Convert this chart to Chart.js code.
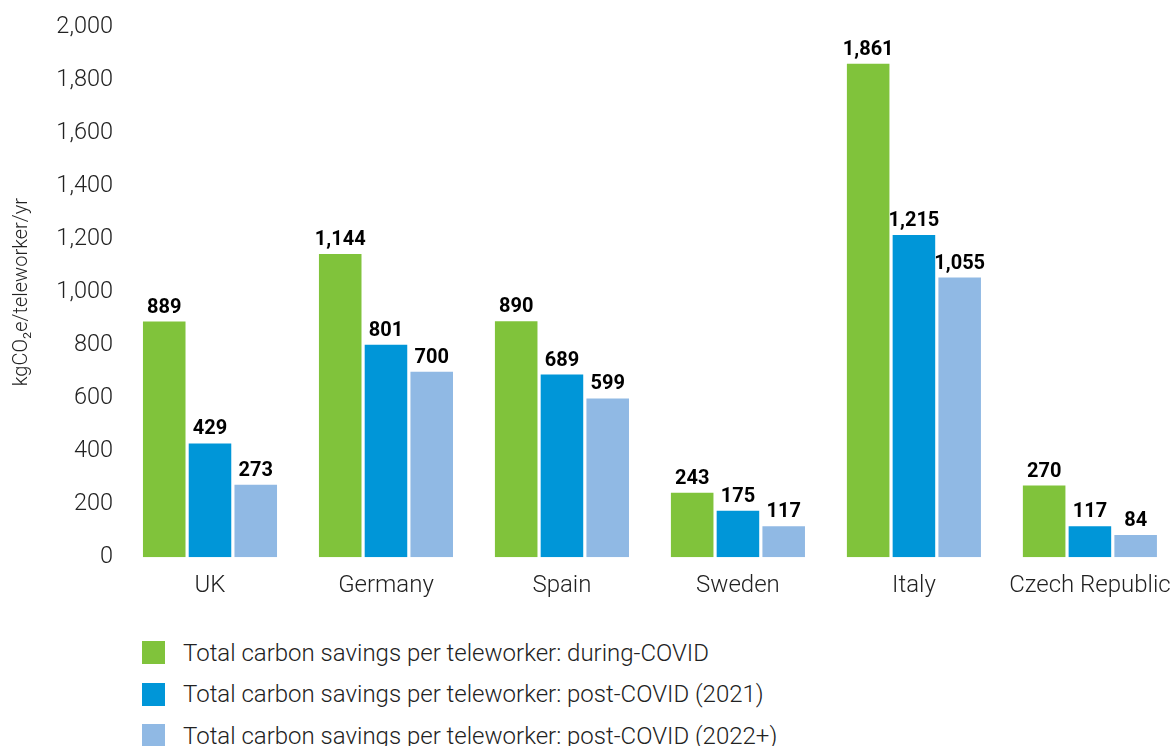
<!DOCTYPE html>
<html>
<head>
<meta charset="utf-8">
<script src="https://cdn.jsdelivr.net/npm/chart.js@4"></script>
<style>
  html, body { margin:0; padding:0; background:#fff; overflow:hidden; width:1174px; height:746px; }
  #wrap { position:absolute; left:0; top:0; width:1185px; height:618px; }
  .legend { position:absolute; left:142px; top:632px; font-family:Roboto, sans-serif; font-weight:300; font-size:24px; color:#222; }
  .legend .row { display:flex; align-items:center; height:41.5px; }
  .legend .box { width:23px; height:23px; margin-right:18px; }
</style>
</head>
<body>
<div id="wrap"><canvas id="chart"></canvas></div>
<div class="legend" id="legend"></div>
<script>
// Carbon savings per teleworker, by country

const countries = ['UK', 'Germany', 'Spain', 'Sweden', 'Italy', 'Czech Republic'];
const duringCovid = [889, 1144, 890, 243, 1861, 270];
const post2021 = [429, 801, 689, 175, 1215, 117];
const post2022 = [273, 700, 599, 117, 1055, 84];
const seriesNames = [
  'Total carbon savings per teleworker: during-COVID',
  'Total carbon savings per teleworker: post-COVID (2021)',
  'Total carbon savings per teleworker: post-COVID (2022+)'
];
const colors = ['#80c33b', '#0096d8', '#90b9e4'];
const yTicks = [0, 200, 400, 600, 800, 1000, 1200, 1400, 1600, 1800, 2000];

const fontFam = 'Roboto, sans-serif';

// values above bars
const barLabels = {
  id: 'barLabels',
  afterDatasetsDraw(chart) {
    const ctx = chart.ctx;
    ctx.save();
    ctx.font = 'bold 20px ' + fontFam;
    ctx.fillStyle = '#000';
    ctx.textAlign = 'center';
    ctx.textBaseline = 'bottom';
    chart.data.datasets.forEach((ds, i) => {
      chart.getDatasetMeta(i).data.forEach((bar, j) => {
        ctx.fillText(ds.data[j].toLocaleString('en-US'), bar.x, bar.y - 4);
      });
    });
    ctx.restore();
  }
};

new Chart(document.getElementById('chart'), {
  type: 'bar',
  data: {
    labels: countries,
    datasets: [duringCovid, post2021, post2022].map((d, i) => ({
      label: seriesNames[i],
      data: d,
      backgroundColor: colors[i],
      barPercentage: 0.93,
      categoryPercentage: 0.78
    }))
  },
  options: {
    responsive: true,
    maintainAspectRatio: false,
    animation: false,
    layout: { padding: { top: 27, right: 4, bottom: 4, left: 0 } },
    plugins: { legend: { display: false }, tooltip: { enabled: false } },
    scales: {
      x: {
        grid: { display: false, drawTicks: false },
        border: { display: false },
        ticks: { color: '#222', padding: 14, font: { family: fontFam, size: 24, weight: 300 }, maxRotation: 0, autoSkip: false }
      },
      y: {
        min: 0,
        max: 2000,
        afterBuildTicks: s => { s.ticks = yTicks.map(v => ({ value: v })); },
        afterFit: s => { s.width = 122; },
        grid: { display: false, drawTicks: false },
        border: { display: false },
        ticks: {
          color: '#222', padding: 9,
          font: { family: fontFam, size: 23.5, weight: 300 },
          callback: v => v.toLocaleString('en-US')
        },
        title: {
          display: true,
          text: 'kgCO₂e/teleworker/yr',
          color: '#222',
          padding: { top: 10, bottom: 0 },
          font: { family: fontFam, size: 20, weight: 300 }
        }
      }
    }
  },
  plugins: [barLabels]
});

const legend = document.getElementById('legend');
seriesNames.forEach((name, i) => {
  const row = document.createElement('div');
  row.className = 'row';
  row.innerHTML = `<div class="box" style="background:${colors[i]}"></div><span>${name}</span>`;
  legend.appendChild(row);
});
</script>
</body>
</html>
